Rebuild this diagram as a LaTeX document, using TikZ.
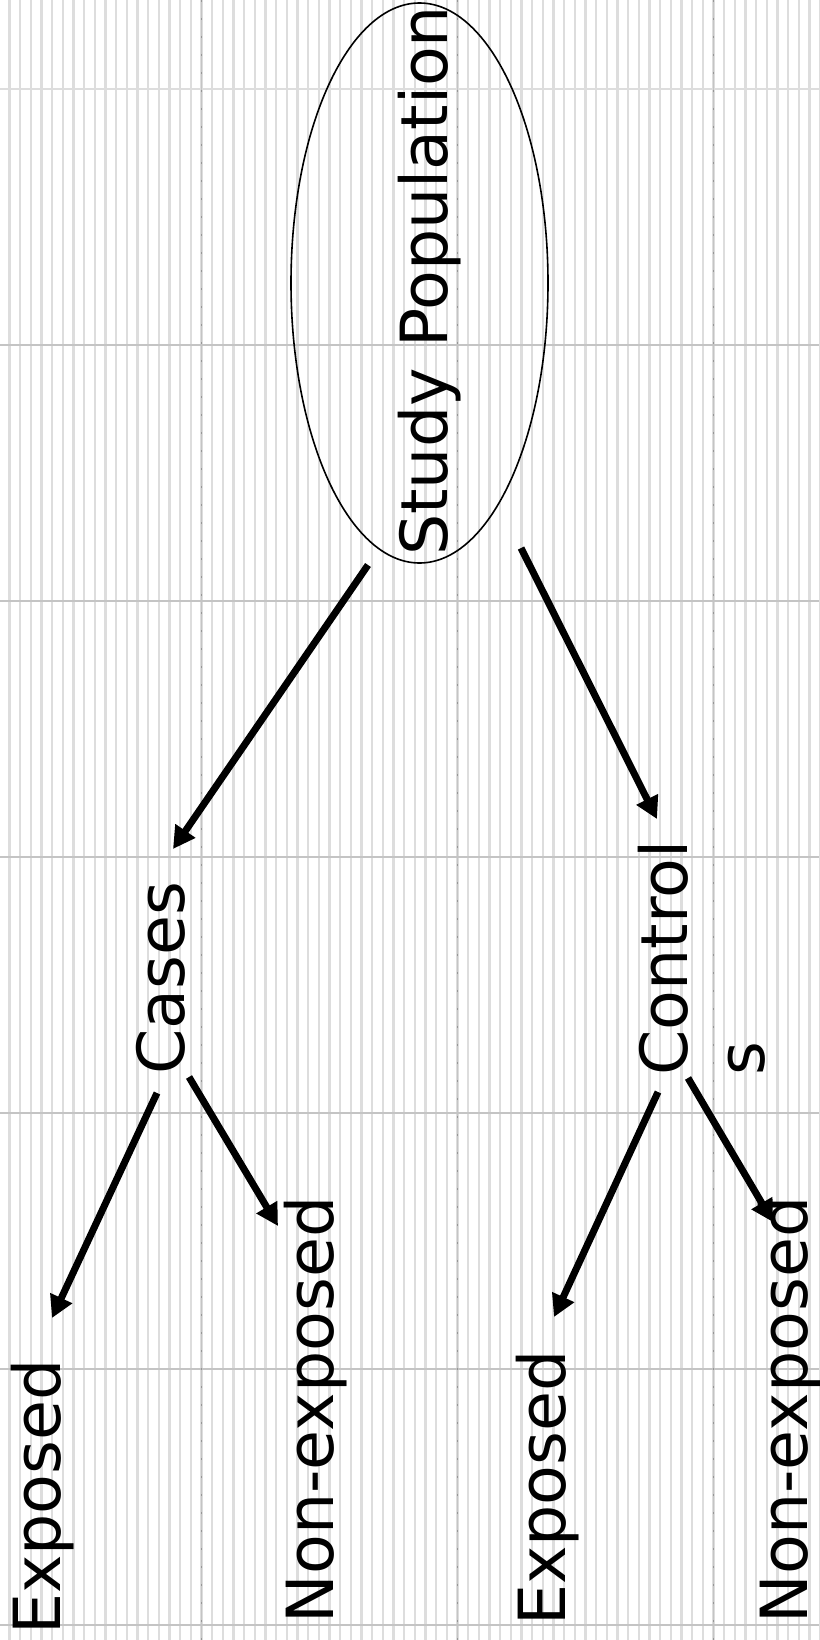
\documentclass[tikz,border=0pt]{standalone}
\usepackage{fontspec}
\setmainfont{DejaVu Sans}
\usetikzlibrary{arrows.meta,shapes.geometric}
\definecolor{gMinor}{RGB}{221,221,221}
\definecolor{gMajor}{RGB}{196,196,196}
\definecolor{gDot}{RGB}{150,150,150}
\newcommand{\GS}{10.6667}
\newcommand{\GX}{201.5}

\begin{document}
\begin{tikzpicture}[x=1pt, y=-1pt,
    arr/.style={draw=black, line width=7pt, -{Triangle[length=22pt, width=23pt]}},
    lbl/.style={rotate=90, anchor=base, inner sep=0pt, font=\fontsize{65}{77}\selectfont},
    minor/.style={draw=gMinor, line width=2.6pt},
    major/.style={draw=gMajor, line width=1.4pt},
  ]
  \useasboundingbox (0,0) rectangle (819,1640);
  \fill[white] (0,0) rectangle (819,1640);

  % background grid: fine columns, coarse rows and columns
  \foreach \k in {-18,...,58} {
    \draw[minor] ({\GX+\k*\GS},0) -- ({\GX+\k*\GS},1640);
  }
  \draw[major, draw=gMinor] (0,89) -- (819,89);
  \foreach \y in {345,601,857,1113,1369,1625} {
    \draw[major] (0,\y) -- (819,\y);
  }
  \foreach \k in {0,1,2} {
    \draw[major, line width=1.2pt] ({\GX+\k*256},0) -- ({\GX+\k*256},1640);
    \draw[draw=gDot, line width=1.2pt, dash pattern=on 2pt off 16pt]
      ({\GX+\k*256},0) -- ({\GX+\k*256},1640);
  }

  % population
  \node[ellipse, draw, line width=1.6pt, minimum width=257pt, minimum height=560pt,
        inner sep=0pt] (pop) at (419.5,283) {};
  \node[lbl] (popLbl) at (447,281) {Study Population};

  % the two groups
  \node[lbl] (cases) at (184,978) {Cases};
  \node[lbl, anchor=north west, align=left] (controls) at (637.6,1075.6) {Control\\s};

  % exposure split
  \node[lbl] (casesExp) at (60,1497) {Exposed};
  \node[lbl] (casesNon) at (333,1410) {Non-exposed};
  \node[lbl] (ctrlExp) at (565,1488) {Exposed};
  \node[lbl] (ctrlNon) at (807,1410) {Non-exposed};

  % arrow ends
  \coordinate (pop-l) at (368,565);
  \coordinate (pop-r) at (521,548);
  \coordinate (cases-in) at (173,849);
  \coordinate (controls-in) at (657,819);
  \coordinate (cases-l) at (157,1093);
  \coordinate (cases-r) at (189,1077);
  \coordinate (controls-l) at (658,1092);
  \coordinate (controls-r) at (688,1078);
  \coordinate (casesExp-in) at (52,1318);
  \coordinate (casesNon-in) at (278,1226);
  \coordinate (ctrlExp-in) at (554,1317);
  \coordinate (ctrlNon-in) at (773,1222);

  \draw[arr] (pop-l) -- (cases-in);
  \draw[arr] (pop-r) -- (controls-in);
  \draw[arr] (cases-l) -- (casesExp-in);
  \draw[arr] (cases-r) -- (casesNon-in);
  \draw[arr] (controls-l) -- (ctrlExp-in);
  \draw[arr] (controls-r) -- (ctrlNon-in);

\end{tikzpicture}
\end{document}
